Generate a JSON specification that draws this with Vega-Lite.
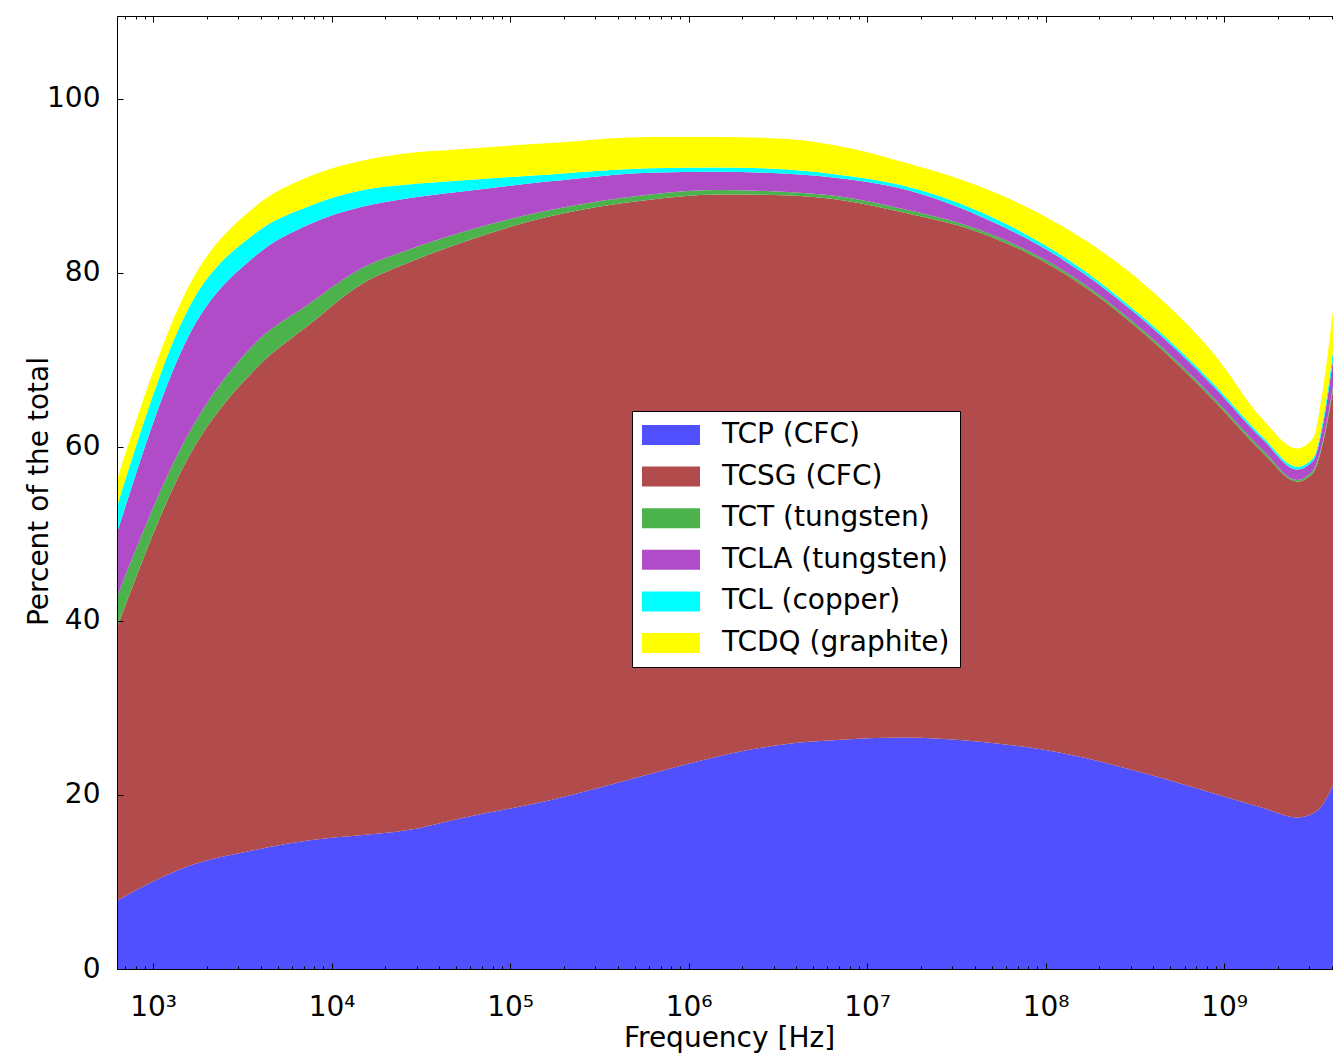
{
  "$schema": "https://vega.github.io/schema/vega-lite/v6.json",
  "width": 1216,
  "height": 953,
  "autosize": {"type": "none"},
  "padding": {"left": 117, "top": 16, "right": 0, "bottom": 85},
  "background": "white",
  "config": {
    "view": {"stroke": "black", "strokeWidth": 1},
    "font": "DejaVu Sans"
  },
  "data": {
    "values": [
      {"f": 628, "series": "TCP (CFC)", "pct": 7.85},
      {"f": 628, "series": "TCSG (CFC)", "pct": 31.35},
      {"f": 628, "series": "TCT (tungsten)", "pct": 3.6},
      {"f": 628, "series": "TCLA (tungsten)", "pct": 7.3},
      {"f": 628, "series": "TCL (copper)", "pct": 3.0},
      {"f": 628, "series": "TCDQ (graphite)", "pct": 3.1},
      {"f": 1570, "series": "TCP (CFC)", "pct": 11.8},
      {"f": 1570, "series": "TCSG (CFC)", "pct": 46.9},
      {"f": 1570, "series": "TCT (tungsten)", "pct": 2.7},
      {"f": 1570, "series": "TCLA (tungsten)", "pct": 11.2},
      {"f": 1570, "series": "TCL (copper)", "pct": 3.2},
      {"f": 1570, "series": "TCDQ (graphite)", "pct": 2.5},
      {"f": 3773, "series": "TCP (CFC)", "pct": 13.7},
      {"f": 3773, "series": "TCSG (CFC)", "pct": 55.3},
      {"f": 3773, "series": "TCT (tungsten)", "pct": 3.0},
      {"f": 3773, "series": "TCLA (tungsten)", "pct": 10.0},
      {"f": 3773, "series": "TCL (copper)", "pct": 2.6},
      {"f": 3773, "series": "TCDQ (graphite)", "pct": 3.1},
      {"f": 7572, "series": "TCP (CFC)", "pct": 14.8},
      {"f": 7572, "series": "TCSG (CFC)", "pct": 59.3},
      {"f": 7572, "series": "TCT (tungsten)", "pct": 2.4},
      {"f": 7572, "series": "TCLA (tungsten)", "pct": 9.1},
      {"f": 7572, "series": "TCL (copper)", "pct": 2.1},
      {"f": 7572, "series": "TCDQ (graphite)", "pct": 3.4},
      {"f": 15010, "series": "TCP (CFC)", "pct": 15.4},
      {"f": 15010, "series": "TCSG (CFC)", "pct": 63.4},
      {"f": 15010, "series": "TCT (tungsten)", "pct": 1.8},
      {"f": 15010, "series": "TCLA (tungsten)", "pct": 7.0},
      {"f": 15010, "series": "TCL (copper)", "pct": 1.9},
      {"f": 15010, "series": "TCDQ (graphite)", "pct": 3.4},
      {"f": 25790, "series": "TCP (CFC)", "pct": 15.9},
      {"f": 25790, "series": "TCSG (CFC)", "pct": 65.1},
      {"f": 25790, "series": "TCT (tungsten)", "pct": 1.5},
      {"f": 25790, "series": "TCLA (tungsten)", "pct": 6.0},
      {"f": 25790, "series": "TCL (copper)", "pct": 1.6},
      {"f": 25790, "series": "TCDQ (graphite)", "pct": 3.6},
      {"f": 52440, "series": "TCP (CFC)", "pct": 17.3},
      {"f": 52440, "series": "TCSG (CFC)", "pct": 66.1},
      {"f": 52440, "series": "TCT (tungsten)", "pct": 1.2},
      {"f": 52440, "series": "TCLA (tungsten)", "pct": 4.7},
      {"f": 52440, "series": "TCL (copper)", "pct": 1.3},
      {"f": 52440, "series": "TCDQ (graphite)", "pct": 3.6},
      {"f": 167400, "series": "TCP (CFC)", "pct": 19.4},
      {"f": 167400, "series": "TCSG (CFC)", "pct": 67.1},
      {"f": 167400, "series": "TCT (tungsten)", "pct": 0.7},
      {"f": 167400, "series": "TCLA (tungsten)", "pct": 3.3},
      {"f": 167400, "series": "TCL (copper)", "pct": 0.8},
      {"f": 167400, "series": "TCDQ (graphite)", "pct": 3.6},
      {"f": 608100, "series": "TCP (CFC)", "pct": 22.4},
      {"f": 608100, "series": "TCSG (CFC)", "pct": 66.0},
      {"f": 608100, "series": "TCT (tungsten)", "pct": 0.6},
      {"f": 608100, "series": "TCLA (tungsten)", "pct": 2.5},
      {"f": 608100, "series": "TCL (copper)", "pct": 0.5},
      {"f": 608100, "series": "TCDQ (graphite)", "pct": 3.6},
      {"f": 1443000, "series": "TCP (CFC)", "pct": 24.4},
      {"f": 1443000, "series": "TCSG (CFC)", "pct": 64.6},
      {"f": 1443000, "series": "TCT (tungsten)", "pct": 0.5},
      {"f": 1443000, "series": "TCLA (tungsten)", "pct": 2.1},
      {"f": 1443000, "series": "TCL (copper)", "pct": 0.5},
      {"f": 1443000, "series": "TCDQ (graphite)", "pct": 3.5},
      {"f": 3382000, "series": "TCP (CFC)", "pct": 25.8},
      {"f": 3382000, "series": "TCSG (CFC)", "pct": 63.1},
      {"f": 3382000, "series": "TCT (tungsten)", "pct": 0.4},
      {"f": 3382000, "series": "TCLA (tungsten)", "pct": 2.1},
      {"f": 3382000, "series": "TCL (copper)", "pct": 0.5},
      {"f": 3382000, "series": "TCDQ (graphite)", "pct": 3.5},
      {"f": 8024000, "series": "TCP (CFC)", "pct": 26.4},
      {"f": 8024000, "series": "TCSG (CFC)", "pct": 61.8},
      {"f": 8024000, "series": "TCT (tungsten)", "pct": 0.4},
      {"f": 8024000, "series": "TCLA (tungsten)", "pct": 2.1},
      {"f": 8024000, "series": "TCL (copper)", "pct": 0.4},
      {"f": 8024000, "series": "TCDQ (graphite)", "pct": 3.2},
      {"f": 15300000, "series": "TCP (CFC)", "pct": 26.6},
      {"f": 15300000, "series": "TCSG (CFC)", "pct": 60.4},
      {"f": 15300000, "series": "TCT (tungsten)", "pct": 0.4},
      {"f": 15300000, "series": "TCLA (tungsten)", "pct": 2.3},
      {"f": 15300000, "series": "TCL (copper)", "pct": 0.4},
      {"f": 15300000, "series": "TCDQ (graphite)", "pct": 2.7},
      {"f": 42930000, "series": "TCP (CFC)", "pct": 26.1},
      {"f": 42930000, "series": "TCSG (CFC)", "pct": 58.5},
      {"f": 42930000, "series": "TCT (tungsten)", "pct": 0.3},
      {"f": 42930000, "series": "TCLA (tungsten)", "pct": 1.6},
      {"f": 42930000, "series": "TCL (copper)", "pct": 0.5},
      {"f": 42930000, "series": "TCDQ (graphite)", "pct": 2.9},
      {"f": 125200000, "series": "TCP (CFC)", "pct": 24.8},
      {"f": 125200000, "series": "TCSG (CFC)", "pct": 55.2},
      {"f": 125200000, "series": "TCT (tungsten)", "pct": 0.3},
      {"f": 125200000, "series": "TCLA (tungsten)", "pct": 1.2},
      {"f": 125200000, "series": "TCL (copper)", "pct": 0.4},
      {"f": 125200000, "series": "TCDQ (graphite)", "pct": 3.4},
      {"f": 370100000, "series": "TCP (CFC)", "pct": 22.4},
      {"f": 370100000, "series": "TCSG (CFC)", "pct": 50.3},
      {"f": 370100000, "series": "TCT (tungsten)", "pct": 0.3},
      {"f": 370100000, "series": "TCLA (tungsten)", "pct": 1.2},
      {"f": 370100000, "series": "TCL (copper)", "pct": 0.3},
      {"f": 370100000, "series": "TCDQ (graphite)", "pct": 3.9},
      {"f": 867200000, "series": "TCP (CFC)", "pct": 20.2},
      {"f": 867200000, "series": "TCSG (CFC)", "pct": 45.2},
      {"f": 867200000, "series": "TCT (tungsten)", "pct": 0.3},
      {"f": 867200000, "series": "TCLA (tungsten)", "pct": 1.3},
      {"f": 867200000, "series": "TCL (copper)", "pct": 0.3},
      {"f": 867200000, "series": "TCDQ (graphite)", "pct": 3.5},
      {"f": 1653000000, "series": "TCP (CFC)", "pct": 18.5},
      {"f": 1653000000, "series": "TCSG (CFC)", "pct": 40.8},
      {"f": 1653000000, "series": "TCT (tungsten)", "pct": 0.3},
      {"f": 1653000000, "series": "TCLA (tungsten)", "pct": 1.2},
      {"f": 1653000000, "series": "TCL (copper)", "pct": 0.3},
      {"f": 1653000000, "series": "TCDQ (graphite)", "pct": 2.0},
      {"f": 2563000000, "series": "TCP (CFC)", "pct": 17.4},
      {"f": 2563000000, "series": "TCSG (CFC)", "pct": 38.6},
      {"f": 2563000000, "series": "TCT (tungsten)", "pct": 0.2},
      {"f": 2563000000, "series": "TCLA (tungsten)", "pct": 1.2},
      {"f": 2563000000, "series": "TCL (copper)", "pct": 0.3},
      {"f": 2563000000, "series": "TCDQ (graphite)", "pct": 2.1},
      {"f": 3151000000, "series": "TCP (CFC)", "pct": 17.9},
      {"f": 3151000000, "series": "TCSG (CFC)", "pct": 39.1},
      {"f": 3151000000, "series": "TCT (tungsten)", "pct": 0.3},
      {"f": 3151000000, "series": "TCLA (tungsten)", "pct": 1.1},
      {"f": 3151000000, "series": "TCL (copper)", "pct": 0.3},
      {"f": 3151000000, "series": "TCDQ (graphite)", "pct": 2.3},
      {"f": 3538000000, "series": "TCP (CFC)", "pct": 18.8},
      {"f": 3538000000, "series": "TCSG (CFC)", "pct": 41.2},
      {"f": 3538000000, "series": "TCT (tungsten)", "pct": 0.3},
      {"f": 3538000000, "series": "TCLA (tungsten)", "pct": 1.7},
      {"f": 3538000000, "series": "TCL (copper)", "pct": 0.5},
      {"f": 3538000000, "series": "TCDQ (graphite)", "pct": 3.5},
      {"f": 4074000000, "series": "TCP (CFC)", "pct": 21.1},
      {"f": 4074000000, "series": "TCSG (CFC)", "pct": 45.4},
      {"f": 4074000000, "series": "TCT (tungsten)", "pct": 0.5},
      {"f": 4074000000, "series": "TCLA (tungsten)", "pct": 3.0},
      {"f": 4074000000, "series": "TCL (copper)", "pct": 1.0},
      {"f": 4074000000, "series": "TCDQ (graphite)", "pct": 4.7}
    ]
  },
  "layer": [
    {
      "transform": [
        {"calculate": "indexof(['TCP (CFC)', 'TCSG (CFC)', 'TCT (tungsten)', 'TCLA (tungsten)', 'TCL (copper)', 'TCDQ (graphite)'], datum.series)", "as": "stackRank"}
      ],
      "mark": {"type": "area", "interpolate": "monotone"},
      "encoding": {
        "x": {
          "field": "f",
          "type": "quantitative",
          "scale": {"type": "log", "domain": [628, 4074000000], "nice": false},
          "axis": {
            "orient": "bottom",
            "zindex": 1,
            "title": "Frequency [Hz]",
            "titleFontSize": 28,
            "titleFontWeight": "normal",
            "titleColor": "black",
            "titleX": 612,
            "titleY": 77,
            "titleAlign": "center",
            "titleBaseline": "alphabetic",
            "grid": false,
            "domain": true,
            "domainColor": "black",
            "domainWidth": 1,
            "tickColor": "black",
            "tickWidth": 1,
            "tickSize": {"condition": {"test": "abs(log(datum.value)/LN10 - round(log(datum.value)/LN10)) < 0.001", "value": -6}, "value": -3},
            "values": [700, 800, 900, 1000, 2000, 3000, 4000, 5000, 6000, 7000, 8000, 9000, 10000, 20000, 30000, 40000, 50000, 60000, 70000, 80000, 90000, 100000, 200000, 300000, 400000, 500000, 600000, 700000, 800000, 900000, 1000000, 2000000, 3000000, 4000000, 5000000, 6000000, 7000000, 8000000, 9000000, 10000000, 20000000, 30000000, 40000000, 50000000, 60000000, 70000000, 80000000, 90000000, 100000000, 200000000, 300000000, 400000000, 500000000, 600000000, 700000000, 800000000, 900000000, 1000000000, 2000000000, 3000000000, 4000000000],
            "labelExpr": "abs(log(datum.value)/LN10 - round(log(datum.value)/LN10)) < 0.001 ? '10' + ['⁰','¹','²','³','⁴','⁵','⁶','⁷','⁸','⁹'][round(log(datum.value)/LN10)] : ''",
            "labelFontSize": 28,
            "labelColor": "black",
            "labelBaseline": "alphabetic",
            "labelPadding": 52,
            "labelOverlap": false,
            "labelFlush": false
          }
        },
        "y": {
          "field": "pct",
          "type": "quantitative",
          "stack": "zero",
          "scale": {"domain": [0, 109.5], "nice": false, "zero": true},
          "axis": {
            "zindex": 1,
            "title": "Percent of the total",
            "titleFontSize": 28,
            "titleFontWeight": "normal",
            "titleColor": "black",
            "titleAngle": -90,
            "titleX": -70,
            "titleY": 475,
            "titleAlign": "center",
            "titleBaseline": "alphabetic",
            "grid": false,
            "values": [0, 20, 40, 60, 80, 100],
            "domainColor": "black",
            "tickColor": "black",
            "tickSize": -6,
            "labelFontSize": 28,
            "labelColor": "black",
            "labelPadding": 23
          }
        },
        "order": {"field": "stackRank", "type": "quantitative", "sort": "ascending"},
        "color": {
          "field": "series",
          "type": "nominal",
          "sort": ["TCP (CFC)", "TCSG (CFC)", "TCT (tungsten)", "TCLA (tungsten)", "TCL (copper)", "TCDQ (graphite)"],
          "scale": {
            "domain": ["TCP (CFC)", "TCSG (CFC)", "TCT (tungsten)", "TCLA (tungsten)", "TCL (copper)", "TCDQ (graphite)"],
            "range": ["#5050FF", "#B24C4C", "#4CB24C", "#B04CC8", "#00FFFF", "#FFFF00"]
          },
          "legend": {
            "title": null,
            "orient": "none",
            "legendX": 515,
            "legendY": 395,
            "padding": 10,
            "strokeColor": "black",
            "fillColor": "white",
            "cornerRadius": 0,
            "symbolType": "M-1,-0.345H1V0.345H-1Z",
            "symbolSize": 3364,
            "symbolStrokeWidth": 0,
            "symbolOpacity": 1,
            "labelFontSize": 28,
            "labelColor": "black",
            "labelOffset": 22,
            "labelLimit": 500,
            "clipHeight": 28,
            "rowPadding": 13.6
          }
        }
      }
    },
    {
      "mark": {"type": "rule", "opacity": 0},
      "encoding": {
        "x": {
          "field": "f",
          "type": "quantitative",
          "axis": {
            "orient": "top",
            "zindex": 1,
            "title": null,
            "labels": false,
            "domain": false,
            "grid": false,
            "tickColor": "black",
            "tickWidth": 1,
            "tickSize": {"condition": {"test": "abs(log(datum.value)/LN10 - round(log(datum.value)/LN10)) < 0.001", "value": -6}, "value": -3},
            "values": [700, 800, 900, 1000, 2000, 3000, 4000, 5000, 6000, 7000, 8000, 9000, 10000, 20000, 30000, 40000, 50000, 60000, 70000, 80000, 90000, 100000, 200000, 300000, 400000, 500000, 600000, 700000, 800000, 900000, 1000000, 2000000, 3000000, 4000000, 5000000, 6000000, 7000000, 8000000, 9000000, 10000000, 20000000, 30000000, 40000000, 50000000, 60000000, 70000000, 80000000, 90000000, 100000000, 200000000, 300000000, 400000000, 500000000, 600000000, 700000000, 800000000, 900000000, 1000000000, 2000000000, 3000000000, 4000000000]
          }
        }
      }
    }
  ]
}
